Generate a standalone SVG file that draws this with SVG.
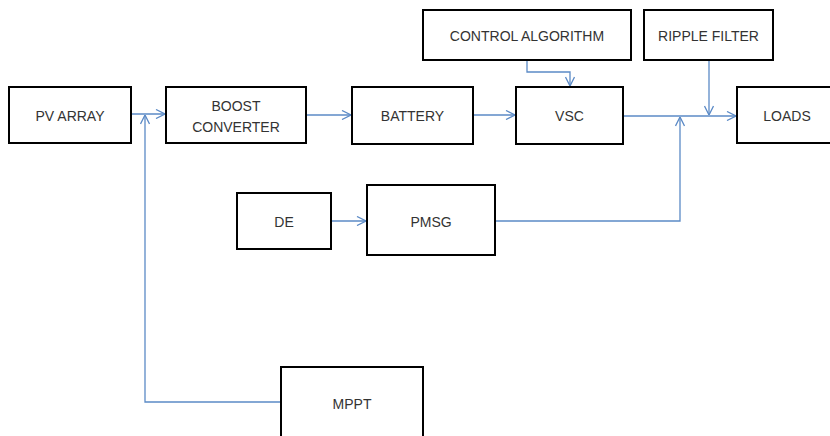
<svg xmlns="http://www.w3.org/2000/svg" width="830" height="436" viewBox="0 0 830 436">
<defs>
<marker id="arr" viewBox="0 0 10 10" refX="10" refY="5" markerWidth="10" markerHeight="10" markerUnits="userSpaceOnUse" orient="auto">
<path d="M1,0.5 L10,5 L1,9.5" fill="none" stroke="#5b8ac6" stroke-width="1.3"/>
</marker>
<style>
.box{fill:#fff;stroke:#000;stroke-width:2}
.lbl{font-family:"Liberation Sans",Arial,sans-serif;font-size:14px;fill:#333;text-anchor:middle}
.c{fill:none;stroke:#5b8ac6;stroke-width:1.3}
</style>
</defs>
<rect width="830" height="436" fill="#fff"/>
<g id="connectors">
<path class="c" d="M131,114 H165" marker-end="url(#arr)"/>
<path class="c" d="M281,402 H145 V115" marker-end="url(#arr)"/>
<path class="c" d="M306,115 H351" marker-end="url(#arr)"/>
<path class="c" d="M473,115 H515" marker-end="url(#arr)"/>
<path class="c" d="M527,60 V72 H570 V86" marker-end="url(#arr)"/>
<path class="c" d="M623,116 H736" marker-end="url(#arr)"/>
<path class="c" d="M709,60 V115" marker-end="url(#arr)"/>
<path class="c" d="M495,221 H680 V117" marker-end="url(#arr)"/>
<path class="c" d="M331,221 H366" marker-end="url(#arr)"/>
</g>
<g id="pv-array"><rect class="box" x="9" y="87" width="122" height="56"/><text class="lbl" x="70" y="121">PV ARRAY</text></g>
<g id="boost-converter"><rect class="box" x="166" y="87" width="140" height="56"/><text class="lbl" x="236" y="111">BOOST</text><text class="lbl" x="236" y="132">CONVERTER</text></g>
<g id="battery"><rect class="box" x="352" y="87" width="121" height="57"/><text class="lbl" x="412.5" y="121">BATTERY</text></g>
<g id="vsc"><rect class="box" x="516" y="87" width="107" height="57"/><text class="lbl" x="569.5" y="121">VSC</text></g>
<g id="control-algorithm"><rect class="box" x="423" y="10" width="208" height="50"/><text class="lbl" x="527" y="41">CONTROL ALGORITHM</text></g>
<g id="ripple-filter"><rect class="box" x="644" y="10" width="129" height="50"/><text class="lbl" x="708.5" y="41">RIPPLE FILTER</text></g>
<g id="loads"><rect class="box" x="737" y="87" width="100" height="56"/><text class="lbl" x="787" y="121">LOADS</text></g>
<g id="de"><rect class="box" x="237" y="193" width="94" height="56"/><text class="lbl" x="284" y="227">DE</text></g>
<g id="pmsg"><rect class="box" x="367" y="185" width="128" height="70"/><text class="lbl" x="431" y="227">PMSG</text></g>
<g id="mppt"><rect class="box" x="281" y="367" width="142" height="80"/><text class="lbl" x="352" y="409">MPPT</text></g>
</svg>
